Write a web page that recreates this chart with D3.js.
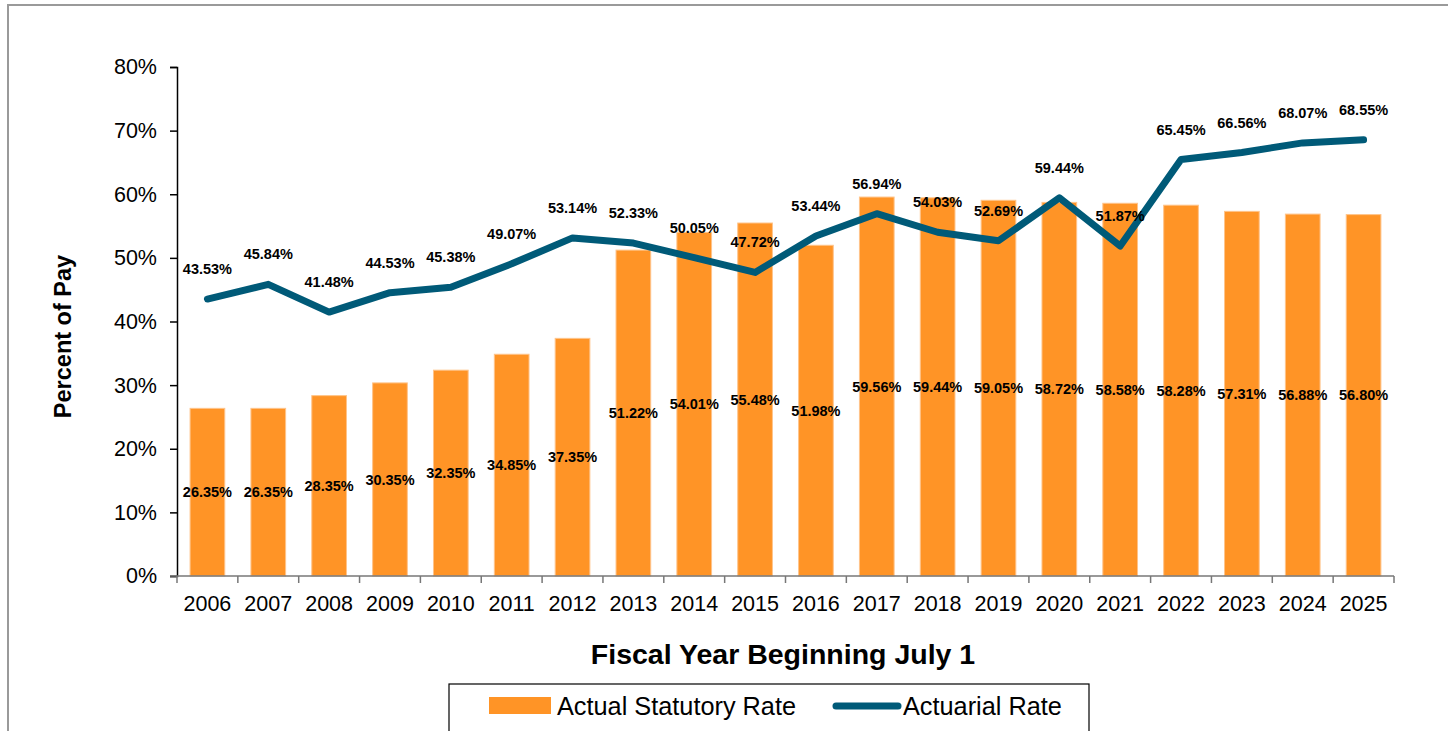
<!DOCTYPE html>
<html>
<head>
<meta charset="utf-8">
<script src="https://cdn.jsdelivr.net/npm/d3@7"></script>
<style>
  html, body { margin: 0; padding: 0; background: #fff; }
  svg { display: block; font-family: "Liberation Sans", Arial, sans-serif; }
</style>
</head>
<body>
<svg id="chart" width="1448" height="731"></svg>
<script>
// Fiscal years (beginning July 1)
const years = ["2006","2007","2008","2009","2010","2011","2012","2013","2014","2015",
               "2016","2017","2018","2019","2020","2021","2022","2023","2024","2025"];
// Actual statutory contribution rate, percent of pay
const statutoryRate = [26.35, 26.35, 28.35, 30.35, 32.35, 34.85, 37.35, 51.22, 54.01, 55.48,
                       51.98, 59.56, 59.44, 59.05, 58.72, 58.58, 58.28, 57.31, 56.88, 56.80];
// Actuarially determined rate, percent of pay
const actuarialRate = [43.53, 45.84, 41.48, 44.53, 45.38, 49.07, 53.14, 52.33, 50.05, 47.72,
                       53.44, 56.94, 54.03, 52.69, 59.44, 51.87, 65.45, 66.56, 68.07, 68.55];
const yTicks = [0, 10, 20, 30, 40, 50, 60, 70, 80];

const svg = d3.select("#chart");
const barColor = "#ff9426";
const lineColor = "#005a78";

// outer frame
svg.append("rect")
  .attr("x", 8).attr("y", 5).attr("width", 1460).attr("height", 740)
  .attr("fill", "none").attr("stroke", "#9a9a9a").attr("stroke-width", 2);

const plot = { left: 177, right: 1394, top: 67, bottom: 576 };

const x = d3.scaleBand().domain(years).range([plot.left, plot.right]).paddingInner(0.43).paddingOuter(0.215);
const xEdge = d3.scaleBand().domain(years).range([plot.left, plot.right]);
const y = d3.scaleLinear().domain([0, 80]).range([plot.bottom, plot.top]);

// bars
svg.append("g").selectAll("rect").data(years).join("rect")
  .attr("x", d => x(d))
  .attr("y", (d, i) => y(statutoryRate[i]))
  .attr("width", x.bandwidth())
  .attr("height", (d, i) => y(0) - y(statutoryRate[i]))
  .attr("fill", barColor)
  .attr("stroke", "#ffc48a").attr("stroke-width", 1);

// y axis
const yAxis = svg.append("g").attr("transform", `translate(${plot.left},0)`)
  .call(d3.axisLeft(y).tickValues(yTicks).tickFormat(d => d + "%").tickSize(7).tickPadding(13));
yAxis.select(".domain").attr("stroke", "#000").attr("stroke-width", 1.5);
yAxis.selectAll(".tick line").attr("stroke", "#000").attr("stroke-width", 1.5);
yAxis.selectAll(".tick text").attr("font-size", "21.5px").attr("fill", "#000")
  .attr("font-family", "'Liberation Sans', Arial, sans-serif");

// x axis with ticks at category boundaries
const xg = svg.append("g");
xg.append("line")
  .attr("x1", plot.left - 7).attr("x2", plot.right)
  .attr("y1", plot.bottom).attr("y2", plot.bottom)
  .attr("stroke", "#777").attr("stroke-width", 1.5);
const edges = years.map(d => xEdge(d)).concat([plot.right]);
xg.selectAll("line.tk").data(edges).join("line").attr("class", "tk")
  .attr("x1", d => d).attr("x2", d => d)
  .attr("y1", plot.bottom).attr("y2", plot.bottom + 7)
  .attr("stroke", "#777").attr("stroke-width", 1.5);
xg.selectAll("text").data(years).join("text")
  .attr("x", d => x(d) + x.bandwidth() / 2)
  .attr("y", plot.bottom + 27)
  .attr("dy", "0.35em")
  .attr("text-anchor", "middle")
  .attr("font-size", "21.5px")
  .attr("fill", "#000")
  .text(d => d);

// actuarial rate line
const line = d3.line()
  .x((d, i) => x(years[i]) + x.bandwidth() / 2)
  .y(d => y(d));
svg.append("path").datum(actuarialRate)
  .attr("d", line)
  .attr("fill", "none")
  .attr("stroke", lineColor)
  .attr("stroke-width", 7)
  .attr("stroke-linejoin", "round")
  .attr("stroke-linecap", "round");

// bar value labels (centred in bar)
svg.append("g").selectAll("text").data(statutoryRate).join("text")
  .attr("x", (d, i) => x(years[i]) + x.bandwidth() / 2)
  .attr("y", d => y(d / 2))
  .attr("dy", "0.35em")
  .attr("text-anchor", "middle")
  .attr("font-size", "14.5px")
  .attr("font-weight", "bold")
  .attr("fill", "#000")
  .text(d => d.toFixed(2) + "%");

// line value labels (above points)
svg.append("g").selectAll("text").data(actuarialRate).join("text")
  .attr("x", (d, i) => x(years[i]) + x.bandwidth() / 2)
  .attr("y", d => y(d) - 30)
  .attr("dy", "0.35em")
  .attr("text-anchor", "middle")
  .attr("font-size", "14.5px")
  .attr("font-weight", "bold")
  .attr("fill", "#000")
  .text(d => d.toFixed(2) + "%");

// axis titles
svg.append("text")
  .attr("transform", `translate(63,${(plot.top + plot.bottom) / 2 + 15}) rotate(-90)`)
  .attr("text-anchor", "middle")
  .attr("dy", "0.35em")
  .attr("font-size", "23.5px")
  .attr("font-weight", "bold")
  .text("Percent of Pay");

svg.append("text")
  .attr("x", 783).attr("y", 654)
  .attr("dy", "0.35em")
  .attr("text-anchor", "middle")
  .attr("font-size", "28.5px")
  .attr("font-weight", "bold")
  .text("Fiscal Year Beginning July 1");

// legend
const lg = svg.append("g");
lg.append("rect")
  .attr("x", 449).attr("y", 684).attr("width", 640).attr("height", 52)
  .attr("fill", "#fff").attr("stroke", "#000").attr("stroke-width", 1.2);
lg.append("rect")
  .attr("x", 489).attr("y", 697).attr("width", 62).attr("height", 17)
  .attr("fill", barColor);
lg.append("text")
  .attr("x", 557).attr("y", 706).attr("dy", "0.35em")
  .attr("font-size", "25.3px").text("Actual Statutory Rate");
lg.append("line")
  .attr("x1", 836).attr("x2", 898).attr("y1", 706).attr("y2", 706)
  .attr("stroke", lineColor).attr("stroke-width", 7).attr("stroke-linecap", "round");
lg.append("text")
  .attr("x", 903).attr("y", 706).attr("dy", "0.35em")
  .attr("font-size", "25.3px").text("Actuarial Rate");
</script>
</body>
</html>
